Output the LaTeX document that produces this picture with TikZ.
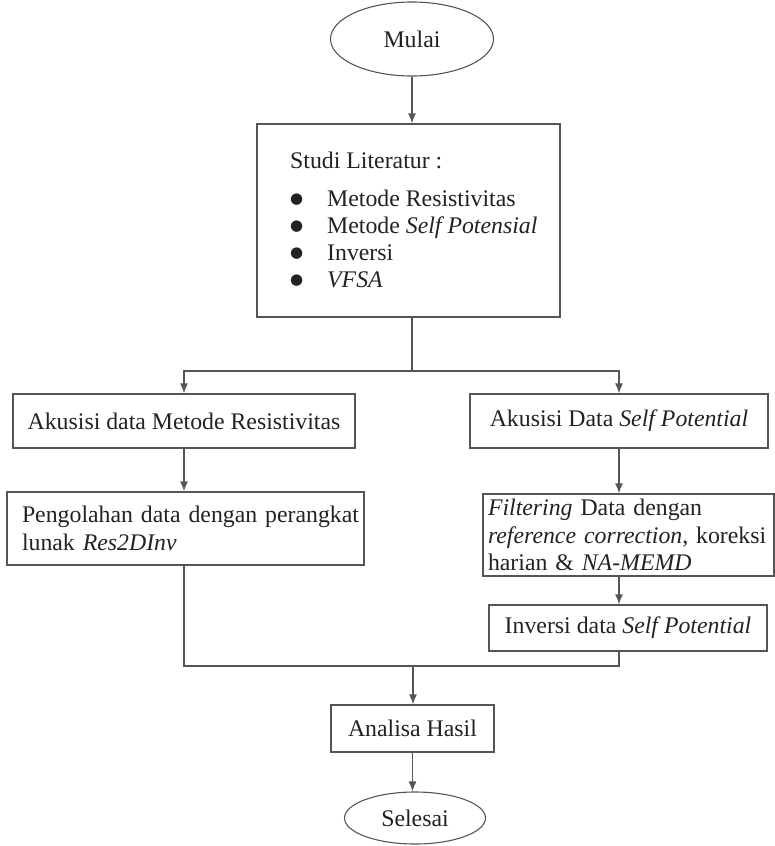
\documentclass[tikz,border=0pt]{standalone}
\usepackage{fontspec}
\setmainfont{Liberation Serif}
\newfontfamily\simbol{DejaVu Sans}
\usetikzlibrary{shapes.geometric,arrows.meta}
\definecolor{garis}{HTML}{555555}
\definecolor{teks}{HTML}{222222}
\newcommand{\huruf}{\fontsize{23.8}{27.5}\selectfont}
\newcommand{\titik}{\makebox[37pt][l]{\raisebox{2.5pt}{\simbol\fontsize{15}{15}\selectfont ●}}}
\tikzset{
  kotak/.style={draw=garis, line width=1.3pt, rectangle, text=teks, font=\huruf, inner sep=0pt},
  elips/.style={draw=garis, line width=1.1pt, ellipse, text=teks, font=\huruf, inner sep=0pt},
  tulisan/.style={text=teks, font=\huruf, inner sep=0pt},
  alur/.style={draw=garis, line width=1.3pt}
}

\begin{document}
\begin{tikzpicture}[x=1pt,y=-1pt,>={Latex[length=10pt,width=8pt]}]
  \useasboundingbox (0,0) rectangle (775,846);
  % mulai dan studi literatur
  \node[elips, minimum width=163pt, minimum height=74pt] (mulai) at (412,39) {Mulai};
  \node[kotak, minimum width=303pt, minimum height=193pt] (studi) at (408.5,220.5) {};
  \node[tulisan, anchor=base west] (judul) at (290,168) {Studi Literatur :};
  \node[tulisan, anchor=base west] (poin1) at (290,206) {\titik Metode Resistivitas};
  \node[tulisan, anchor=base west] (poin2) at (290,233) {\titik Metode \textit{Self Potensial}};
  \node[tulisan, anchor=base west] (poin3) at (290,260) {\titik Inversi};
  \node[tulisan, anchor=base west] (poin4) at (290,287) {\titik \textit{VFSA}};
  % cabang kiri
  \node[kotak, minimum width=342pt, minimum height=54pt] (akres) at (184,421) {Akusisi data Metode Resistivitas};
  \node[kotak, minimum height=73pt, text width=327pt, inner xsep=15pt, align=left] (olah) at (185.5,528.5)
    {\mbox{Pengolahan data dengan perangkat}\\ lunak \textit{Res2DInv}};
  % cabang kanan
  \node[kotak, minimum width=298pt, minimum height=54pt] (aksp) at (619,421) {Akusisi Data \textit{Self Potential}};
  \node[kotak, minimum height=82pt, text width=281pt, inner xsep=5pt, align=left] (filt) at (628.5,535)
    {\textit{Filtering} Data dengan\\ \mbox{\textit{reference correction}, koreksi}\\ harian \& \textit{NA-MEMD}};
  \node[kotak, minimum width=278pt, minimum height=46pt] (inv) at (628,628) {Inversi data \textit{Self Potential}};
  % akhir
  \node[kotak, minimum width=163pt, minimum height=47pt] (analisa) at (412.5,728.5) {Analisa Hasil};
  \node[elips, minimum width=141pt, minimum height=52pt] (selesai) at (415,818) {Selesai};

  \coordinate (cabang) at (412,371);
  \coordinate (gabung) at (413,666);
  \draw[alur,->] (mulai.south) -- (mulai.south |- studi.north);
  \draw[alur] (cabang |- studi.south) -- (cabang);
  \draw[alur,->] (cabang) -| (akres.north);
  \draw[alur,->] (cabang) -| (aksp.north);
  \draw[alur,->] (akres.south) -- (akres.south |- olah.north);
  \draw[alur,->] (aksp.south) -- (aksp.south |- filt.north);
  \draw[alur,->] (aksp.south |- filt.south) -- (aksp.south |- inv.north);
  \draw[alur] (akres.south |- olah.south) |- (aksp.south |- gabung) -- (aksp.south |- inv.south);
  \draw[alur,->] (gabung) -- (gabung |- analisa.north);
  \draw[alur,->] (analisa.south) -- (analisa.south |- selesai.north);
\end{tikzpicture}
\end{document}
